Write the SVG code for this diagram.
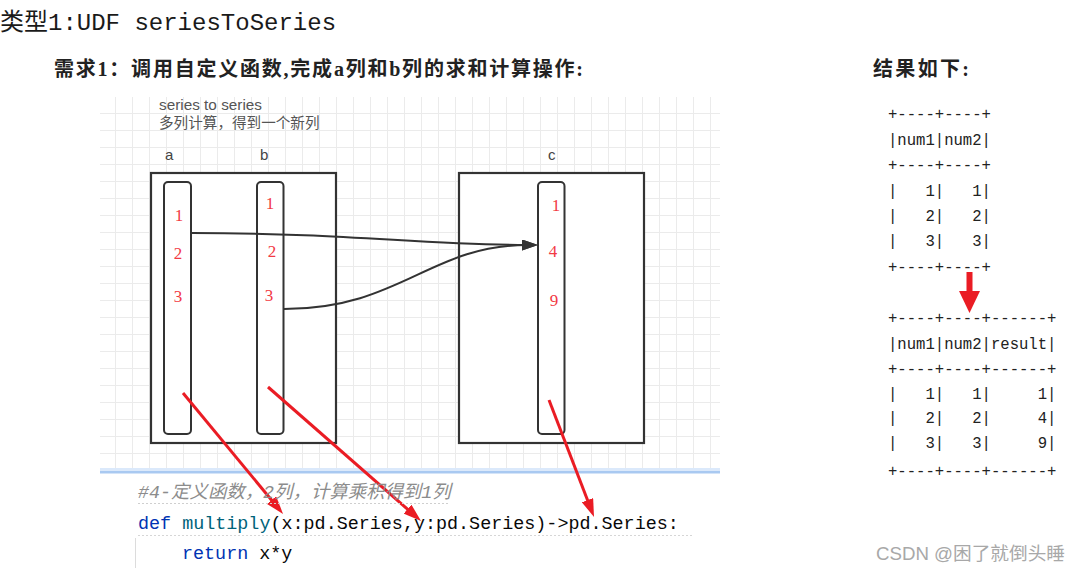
<svg xmlns="http://www.w3.org/2000/svg" width="1082" height="574" viewBox="0 0 1082 574">
<style>
.title{font-family:"Liberation Mono","Noto Sans CJK SC",monospace;font-size:24px;fill:#1a1a1a}
.sub{font-family:"Liberation Serif","Noto Sans CJK SC",serif;font-size:20px;font-weight:bold;fill:#222}
.note{font-family:"Liberation Sans","Noto Sans CJK SC",sans-serif;font-size:14.6px;fill:#555}
.lbl{font-family:"Liberation Sans",sans-serif;font-size:15px;fill:#444}
.num{font-family:"Liberation Serif",serif;font-size:17px;fill:#f23a44;text-anchor:middle}
.box{fill:#fff;stroke:#333;stroke-width:2.2}
.col{fill:#fff;stroke:#333;stroke-width:2}
.blk{fill:none;stroke:#333;stroke-width:2}
.red{fill:none;stroke:#ea1c24;stroke-width:3}
.code{font-family:"Liberation Mono","Noto Sans CJK SC",monospace;font-size:18.4px;fill:#080808;white-space:pre}
.cmt{font-family:"Liberation Mono","Noto Sans CJK SC",monospace;font-size:18.4px;font-style:italic;fill:#8c8c8c}
.tbl{font-family:"Liberation Mono",monospace;font-size:15.6px;fill:#222;white-space:pre}
.wm{font-family:"Liberation Sans","Noto Sans CJK SC",sans-serif;font-size:18px;fill:#a8a8a8}
</style>
<defs>
<pattern id="grid" patternUnits="userSpaceOnUse" width="17" height="17">
<path d="M13.5,0 V17 M0,11.5 H17" stroke="#ebebeb" stroke-width="1" fill="none"/>
</pattern>
<marker id="ab" viewBox="0 0 16 11" refX="5" refY="5.5" markerWidth="16" markerHeight="11" markerUnits="userSpaceOnUse" orient="auto">
<path d="M0,0 L16,5.5 L0,11 z" fill="#333"/>
</marker>
<marker id="ar" viewBox="0 0 18 12" refX="6" refY="6" markerWidth="18" markerHeight="12" markerUnits="userSpaceOnUse" orient="auto">
<path d="M0,0 L18,6 L0,12 z" fill="#ea1c24"/>
</marker>
</defs>
<rect width="1082" height="574" fill="#fff"/>

<g id="title">
<text class="title" x="0" y="30">类型1:UDF seriesToSeries</text>
<text class="sub" x="54" y="76" textLength="529" lengthAdjust="spacing">需求1：调用自定义函数,完成a列和b列的求和计算操作:</text>
<text class="sub" x="873" y="76" textLength="96" lengthAdjust="spacing">结果如下:</text>
</g>

<g id="canvas">
<rect x="100" y="97" width="620" height="372" fill="url(#grid)"/>
<rect x="100" y="468" width="620" height="3" fill="#dbe9fb"/>
<rect x="100" y="471" width="620" height="2.5" fill="#a9c9f1"/>
<text class="note" x="159" y="110" textLength="103" lengthAdjust="spacingAndGlyphs">series to series</text>
<text class="note" x="159" y="128">多列计算，得到一个新列</text>
</g>

<g id="boxA">
<rect class="box" x="151" y="173" width="185" height="270"/>
<text class="lbl" x="165" y="160">a</text>
<text class="lbl" x="260" y="160">b</text>
</g>
<g id="colA">
<rect class="col" x="164" y="182" width="27" height="252" rx="4"/>
<text class="num" x="179" y="221">1</text>
<text class="num" x="178" y="259">2</text>
<text class="num" x="178" y="302">3</text>
</g>
<g id="colB">
<rect class="col" x="257" y="182" width="26.5" height="252" rx="4"/>
<text class="num" x="270" y="209">1</text>
<text class="num" x="272" y="257">2</text>
<text class="num" x="269" y="301">3</text>
</g>
<g id="boxC">
<rect class="box" x="459" y="173" width="185" height="270"/>
<text class="lbl" x="548" y="160">c</text>
</g>
<g id="colC">
<rect class="col" x="538" y="182" width="26.5" height="252" rx="4"/>
<text class="num" x="556" y="211">1</text>
<text class="num" x="553" y="257">4</text>
<text class="num" x="554" y="306">9</text>
</g>

<g id="connectors">
<path class="blk" d="M192,233 C350,233 420,245 527,245" marker-end="url(#ab)"/>
<path class="blk" d="M284,309 C400,309 430,245 527,245" marker-end="url(#ab)"/>
<path class="red" d="M183,393 L275.4,504.7" marker-end="url(#ar)"/>
<path class="red" d="M268,387 L412,513.1" marker-end="url(#ar)"/>
<path class="red" d="M549,400 L589.7,505.8" marker-end="url(#ar)"/>
<rect x="966.5" y="272" width="6" height="21" fill="#ea1c24"/>
<path d="M959,291 L980,291 L969.5,313 z" fill="#ea1c24"/>
</g>

<g id="code">
<text class="cmt" x="138" y="498">#4-定义函数，2列，计算乘积得到1列</text>
<line x1="138" y1="503.5" x2="448" y2="503.5" stroke="#cfcfcf" stroke-width="1" stroke-dasharray="2,2"/>
<text class="code" x="138" y="529"><tspan fill="#0033b3">def</tspan> <tspan fill="#00627a">multiply</tspan>(x:pd.Series,y:pd.Series)-&gt;pd.Series:</text>
<line x1="138" y1="535.5" x2="692" y2="535.5" stroke="#d6d6d6" stroke-width="1" stroke-dasharray="2,2"/>
<line x1="135.5" y1="538" x2="135.5" y2="568" stroke="#dcdcdc" stroke-width="1"/>
<text class="code" x="182" y="559"><tspan fill="#0033b3">return</tspan> x*y</text>
</g>

<g id="table1">
<text class="tbl" x="888" y="119">+----+----+</text>
<text class="tbl" x="888" y="145">|num1|num2|</text>
<text class="tbl" x="888" y="170">+----+----+</text>
<text class="tbl" x="888" y="196">|   1|   1|</text>
<text class="tbl" x="888" y="221">|   2|   2|</text>
<text class="tbl" x="888" y="246">|   3|   3|</text>
<text class="tbl" x="888" y="272">+----+----+</text>
</g>
<g id="table2">
<text class="tbl" x="888" y="323">+----+----+------+</text>
<text class="tbl" x="888" y="349">|num1|num2|result|</text>
<text class="tbl" x="888" y="374">+----+----+------+</text>
<text class="tbl" x="888" y="399">|   1|   1|     1|</text>
<text class="tbl" x="888" y="423">|   2|   2|     4|</text>
<text class="tbl" x="888" y="448">|   3|   3|     9|</text>
<text class="tbl" x="888" y="476">+----+----+------+</text>
</g>

<text class="wm" x="876" y="560" textLength="189" lengthAdjust="spacingAndGlyphs">CSDN @困了就倒头睡</text>
</svg>
